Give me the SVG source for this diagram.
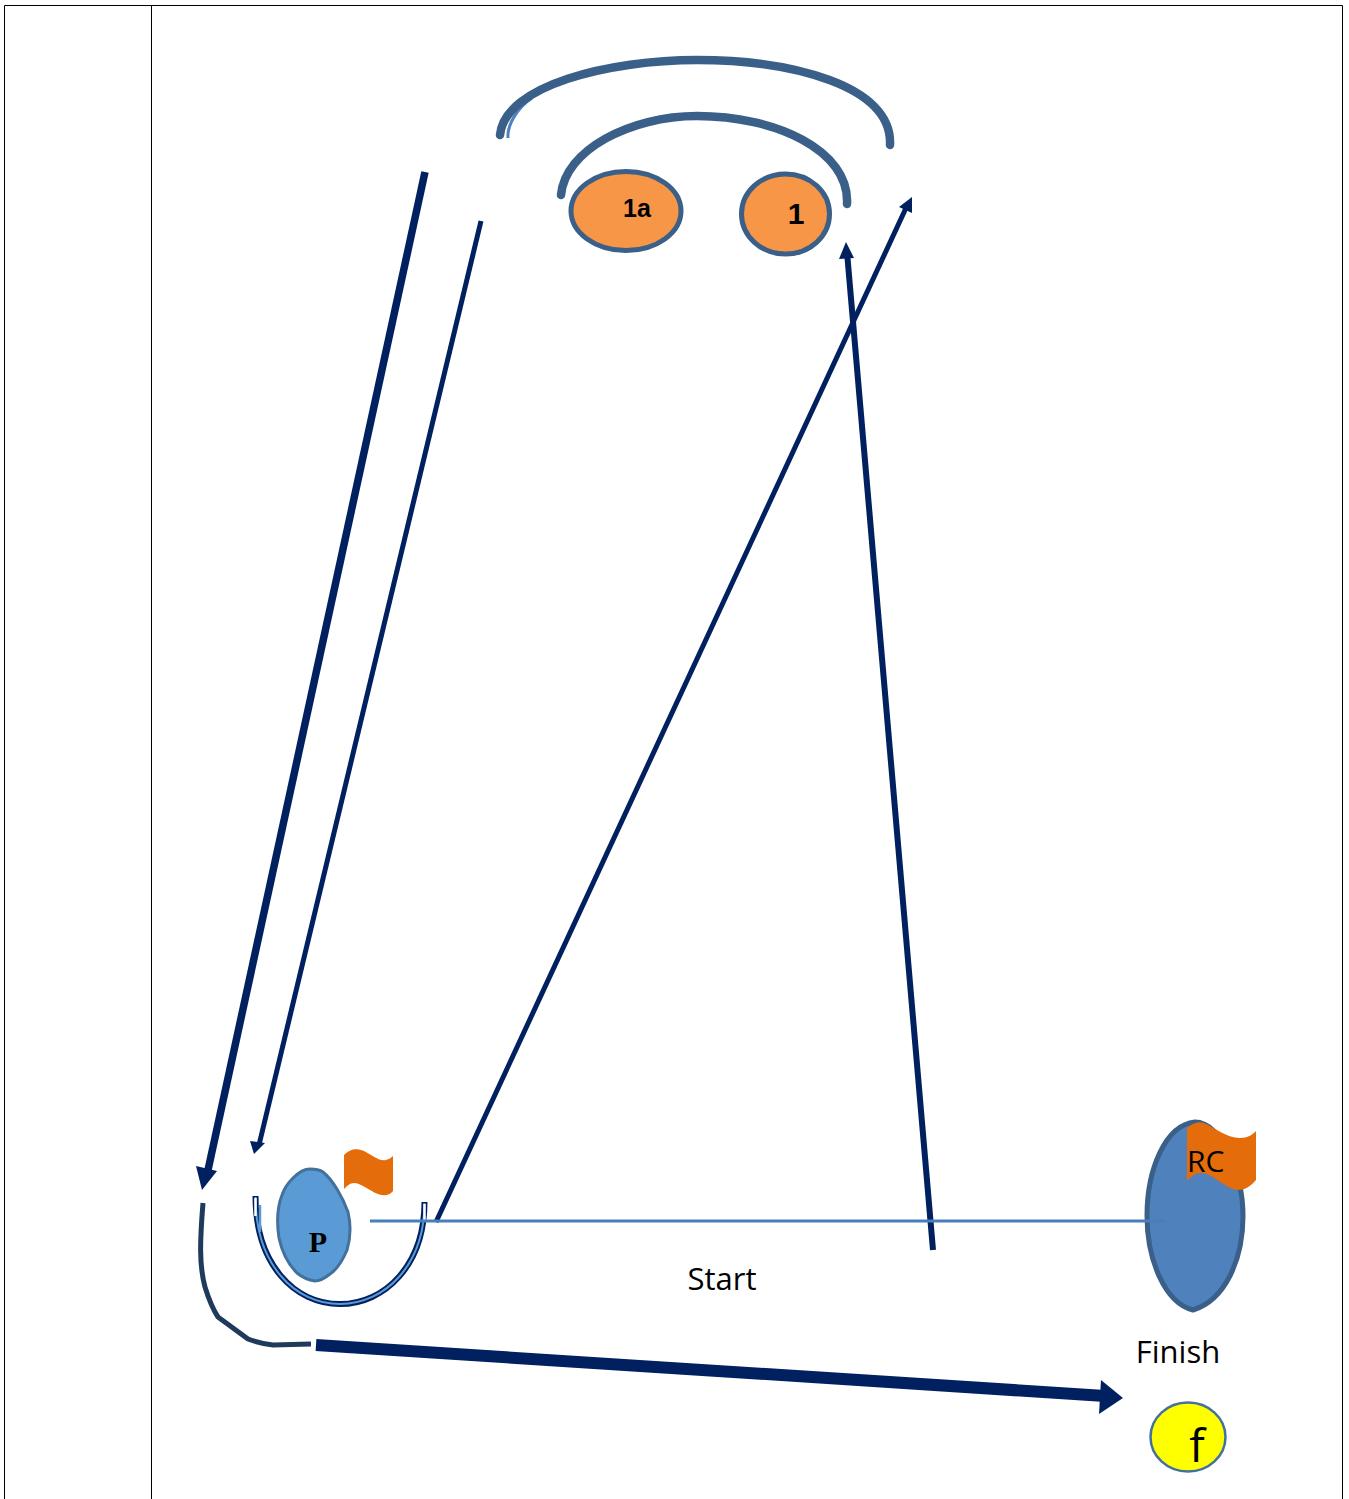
<svg xmlns="http://www.w3.org/2000/svg" width="1349" height="1499" viewBox="0 0 1349 1499">
<style>
.t{font-family:"Open Sans","Noto Sans","Liberation Sans",sans-serif;fill:#000}
.b{font-family:"Liberation Sans",Arial,sans-serif;font-weight:700;fill:#000}
.frame{fill:none;stroke:#000;stroke-width:1}
.arc{fill:none;stroke:#3a6089;stroke-width:8.500;stroke-linecap:round}
.navy{fill:none;stroke:#002060}
.head{fill:#002060}
.flag{fill:#e46c0a}
</style>
<rect width="1349" height="1499" fill="#fff"/>
<g id="table">
<path class="frame" d="M4.500 1499V5.500H1342.500V1499M151.500 5.500V1499"/>
</g>
<g id="node-1a">
<ellipse cx="626" cy="211" rx="55" ry="39.500" fill="#f79646" stroke="#3a6089" stroke-width="5"/>
<text class="b" x="637" y="217" font-size="25" text-anchor="middle">1a</text>
</g>
<g id="node-1">
<ellipse cx="785.500" cy="214" rx="44" ry="40" fill="#f79646" stroke="#3a6089" stroke-width="5"/>
<text class="b" x="796" y="224" font-size="30" text-anchor="middle">1</text>
</g>
<g id="node-p">
<path d="M255.500 1196C255.500 1265 295 1304 340 1304C385 1304 424.500 1265 424.500 1202" fill="none" stroke="#002060" stroke-width="6"/>
<path d="M255.500 1197C255.500 1265 295 1304 340 1304C385 1304 424.500 1265 424.500 1203" fill="none" stroke="#5b9bd5" stroke-width="2"/>
<path d="M255.500 1198V1216M424.500 1204V1220" fill="none" stroke="#fff" stroke-width="2.500"/>
<path d="M260 1205V1232" fill="none" stroke="#5b9bd5" stroke-width="2.500"/>
<path d="M310 1169C315 1169 320 1170 323 1172C333 1180 343 1198 348 1212C351 1225 350 1240 347 1250C342 1262 336 1270 330 1274C325 1278 320 1281 315 1281C308 1280 302 1277 297 1273C289 1265 282 1252 279 1238C277 1225 277 1208 282 1195C285 1186 289 1182 293 1178C298 1173 304 1169 310 1169Z" fill="#5b9bd5" stroke="#41719c" stroke-width="3"/>
<text x="318" y="1252" font-family="Liberation Serif,serif" font-weight="700" font-size="30" text-anchor="middle">P</text>
<path class="flag" d="M344 1155C350 1149 356 1148 364 1151C372 1155 380 1162 386 1160C389 1159 391 1158 393 1156V1191C389 1196 384 1196 378 1194C368 1190 361 1183 354 1183C350 1183 347 1186 344 1189Z"/>
</g>
<g id="node-rc">
<path d="M1195 1122C1222 1122 1243 1175 1243 1216C1243 1260 1225 1300 1193 1310C1165 1303 1147 1260 1147 1216C1147 1170 1165 1125 1195 1122Z" fill="#4f81bd" stroke="#3a6089" stroke-width="5"/>
<path class="flag" d="M1187 1128C1193 1123 1198 1121 1204 1123C1214 1127 1226 1138 1240 1138C1248 1138 1252 1135 1256 1131V1180C1250 1187 1244 1190 1238 1190C1225 1189 1212 1172 1200 1173C1195 1173 1191 1177 1187 1181Z"/>
<text class="t" x="1187" y="1172" font-size="30">RC</text>
</g>
<g id="node-f">
<ellipse cx="1188" cy="1437" rx="37.500" ry="34.500" fill="#ff0" stroke="#41719c" stroke-width="2.500"/>
<text class="t" x="1197" y="1462" font-size="46" text-anchor="middle">f</text>
</g>
<g id="labels">
<text class="t" x="722" y="1290" font-size="31" text-anchor="middle">Start</text>
<text class="t" x="1178" y="1363" font-size="31" text-anchor="middle">Finish</text>
</g>
<g id="connectors">
<path d="M508 138C507 125 517 108 532 98" fill="none" stroke="#4f81bd" stroke-width="3"/>
<path class="arc" d="M500 135C505 85 610 60 697 60C790 60 893 85 890 145"/>
<path class="arc" d="M561 195C565 150 630 116 697 116C775 116 850 150 847 204"/>
<path class="navy" stroke-width="7.500" d="M425 172L208 1170"/>
<polygon class="head" points="202,1190 196,1166 217,1171"/>
<path class="navy" stroke-width="5" d="M481 221L259 1145"/>
<polygon class="head" points="254,1154 250,1141 265,1143"/>
<path class="navy" stroke-width="5" d="M436 1222L906 208"/>
<polygon class="head" points="912,197 912,213 899,207"/>
<path class="navy" stroke-width="6" d="M933 1250L847 252"/>
<polygon class="head" points="846,242 854,258 839,259"/>
<path d="M370 1221H1165" fill="none" stroke="#4a7ebb" stroke-width="3"/>
<path d="M203 1203C200 1240 199 1265 205 1287C209 1300 212 1308 218 1317L248 1339C256 1342 265 1344 273 1345L311 1344" fill="none" stroke="#1f3a5a" stroke-width="5"/>
<path class="navy" stroke-width="12" d="M316 1345L1105 1396"/>
<polygon class="head" points="1123,1398 1101,1380 1099,1414"/>
</g>
</svg>
